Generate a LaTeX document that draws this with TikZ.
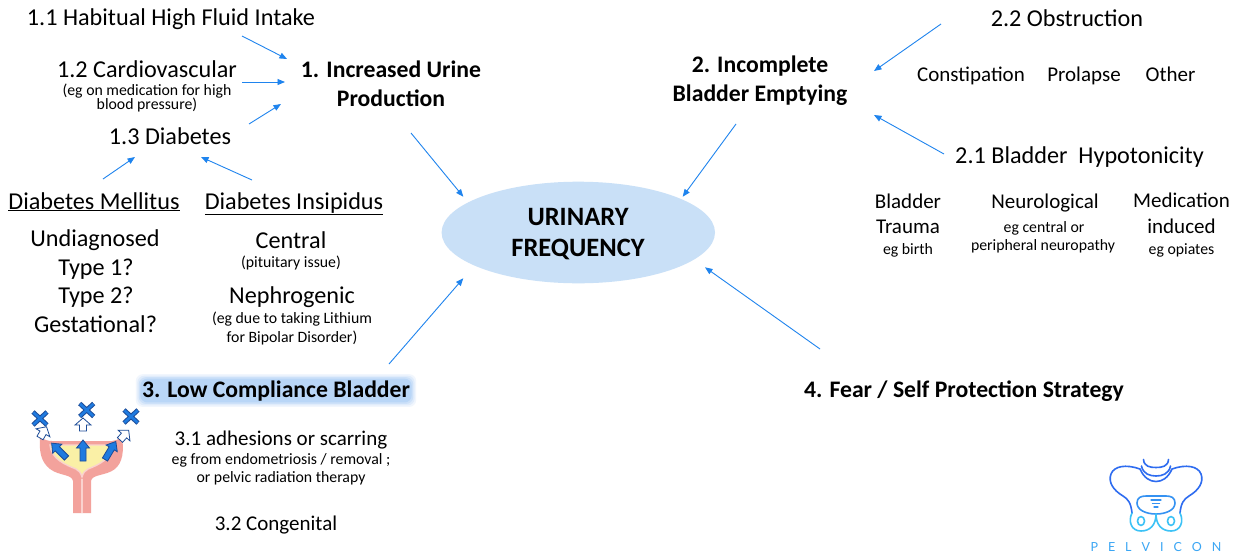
\documentclass[tikz,border=0pt]{standalone}
\usepackage{fontspec}
\setmainfont{Carlito}
\newfontfamily\logofont{Lato}
\usetikzlibrary{arrows.meta,shapes.geometric,backgrounds}
\definecolor{linkblue}{HTML}{1F84EE}
\definecolor{ovalfill}{HTML}{C9E0F7}
\definecolor{haze}{HTML}{8DBDF3}
\definecolor{wallpink}{HTML}{F3A29C}
\definecolor{liningpink}{HTML}{FAD2CE}
\definecolor{urineyellow}{HTML}{FAF0A6}
\definecolor{pushblue}{HTML}{1F7BE0}
\definecolor{edgeblue}{HTML}{1D4C97}
\definecolor{logotopc}{HTML}{2E6CF0}
\definecolor{logomidc}{HTML}{3592F2}
\definecolor{logobotc}{HTML}{3CC2F6}
\definecolor{logotext}{HTML}{3BA6F4}

\tikzset{
  txt/.style={anchor=base, inner sep=0pt, font=\fontsize{24.2}{28}\selectfont},
  bld/.style={anchor=base, inner sep=0pt, font=\bfseries\fontsize{23.7}{28}\selectfont},
  med/.style={anchor=base, inner sep=0pt, font=\fontsize{21}{25}\selectfont},
  sml/.style={anchor=base, inner sep=0pt, font=\fontsize{15.8}{18}\selectfont},
  big/.style={anchor=base, inner sep=0pt, font=\bfseries\fontsize{26.5}{30}\selectfont},
  conn/.style={draw=linkblue, line width=0.9pt, -{Triangle[length=7.5pt,width=6pt]}},
  bluearrow/.pic={
    \path[fill=pushblue, draw=edgeblue, line width=0.8pt, line join=miter]
      (-3,0) -- (-3,-13) -- (-6.5,-13) -- (0,-21) -- (6.5,-13) -- (3,-13) -- (3,0) -- cycle;
  },
  whitearrow/.pic={
    \path[fill=white, draw=edgeblue, line width=0.8pt, line join=miter]
      (-3.5,0) -- (-3.5,-6) -- (-8,-6) -- (0,-13) -- (8,-6) -- (3.5,-6) -- (3.5,0) -- cycle;
  },
  crossmark/.pic={
    \draw[edgeblue, line width=4.6pt] (-7,-6.5) -- (7,6.5) (-7,6.5) -- (7,-6.5);
    \draw[pushblue, line width=2.6pt] (-6.6,-6.1) -- (6.6,6.1) (-6.6,6.1) -- (6.6,-6.1);
  },
}

\begin{document}
\begin{tikzpicture}[x=1pt,y=-1pt]
\useasboundingbox (0,0) rectangle (1243,552);

% ---------- 1. Increased urine production ----------
\node[txt] (n11) at (171,25) {1.1 Habitual High Fluid Intake};
\node[txt] (n12) at (147,77) {1.2 Cardiovascular};
\node[sml] (n12a) at (147,95) {(eg on medication for high};
\node[sml] (n12b) at (147,109) {blood pressure)};
\node[txt] (n13) at (170,144) {1.3 Diabetes};
\node[bld] (n1) at (391,77) {1. Increased Urine};
\node[bld] (n1b) at (391,106) {Production};

\node[txt] (dm) at (94,209) {\underline{Diabetes Mellitus}};
\node[txt] (di) at (294,209) {\underline{Diabetes Insipidus}};
\node[txt] (dm1) at (95,246) {Undiagnosed};
\node[txt] (dm2) at (96,275) {Type 1?};
\node[txt] (dm3) at (96,303) {Type 2?};
\node[txt] (dm4) at (95.5,332) {Gestational?};
\node[txt] (di1) at (291,248) {Central};
\node[sml] (di1a) at (291,267) {(pituitary issue)};
\node[txt] (di2) at (292,303) {Nephrogenic};
\node[sml] (di2a) at (292,323) {(eg due to taking Lithium};
\node[sml] (di2b) at (292,342) {for Bipolar Disorder)};

% ---------- central oval ----------
\node[ellipse, fill=ovalfill, minimum width=273.4pt, minimum height=101.6pt, inner sep=0pt] (uf) at (578.3,232.5) {};
\node[big] (ufa) at (578,225) {URINARY};
\node[big] (ufb) at (578,256) {FREQUENCY};

% ---------- 2. Incomplete bladder emptying ----------
\node[bld] (n2) at (760,72) {2. Incomplete};
\node[bld] (n2b) at (760,101) {Bladder Emptying};
\node[txt] (n22) at (1067,26) {2.2 Obstruction};
\node[med] (ob1) at (971,81) {Constipation};
\node[med] (ob2) at (1084,81) {Prolapse};
\node[med] (ob3) at (1170.5,81) {Other};
\node[txt] (n21) at (1079.5,163) {2.1 Bladder~\ Hypotonicity};
\node[med] (hy1) at (908,208) {Bladder};
\node[med] (hy1b) at (908,233) {Trauma};
\node[sml] (hy1c) at (908,254) {eg birth};
\node[med] (hy2) at (1045,208) {Neurological};
\node[sml] (hy2b) at (1044,232) {eg central or};
\node[sml] (hy2c) at (1043,250) {peripheral neuropathy};
\node[med] (hy3) at (1181.5,207) {Medication};
\node[med] (hy3b) at (1181.5,233) {induced};
\node[sml] (hy3c) at (1181.5,254) {eg opiates};

% ---------- 3. Low compliance bladder ----------
\node[bld] (n3) at (276,397) {3. Low Compliance Bladder};
\begin{scope}[on background layer]
  % white page, then a soft blue glow behind the heading
  \fill[white] (0,0) rectangle (1243,552);
  \foreach \d/\o in {6/0.12, 4.5/0.16, 3/0.22, 1.5/0.3} {
    \fill[haze, opacity=\o, rounded corners=7pt]
      ([shift={(-\d,-\d)}]n3.north west) rectangle ([shift={(\d,\d)}]n3.south east);
  }
\end{scope}
\node[med] (n31) at (281,445) {3.1 adhesions or scarring};
\node[sml] (n31a) at (281,464) {eg from endometriosis / removal ;};
\node[sml] (n31b) at (281,482) {or pelvic radiation therapy};
\node[med] (n32) at (276,530) {3.2 Congenital};

% ---------- 4. Fear ----------
\node[bld] (n4) at (964,397) {4. Fear / Self Protection Strategy};

% ---------- connector ends ----------
\coordinate (n11-o) at (242,36);   \coordinate (n1-i1) at (287,59);
\coordinate (n12-o) at (242,82);   \coordinate (n1-i2) at (285,82);
\coordinate (n13-o) at (249,124);  \coordinate (n1-i3) at (281,104);
\coordinate (dm-o) at (103,179);   \coordinate (n13-i1) at (135,157);
\coordinate (di-o) at (252,180);   \coordinate (n13-i2) at (201,157);
\coordinate (n1-o) at (411,133);   \coordinate (uf-i1) at (463.3,196.7);
\coordinate (n2-o) at (736,124);   \coordinate (uf-i2) at (682.7,196.7);
\coordinate (n22-o) at (941,24);   \coordinate (n2-i1) at (874,71);
\coordinate (n21-o) at (944,154);  \coordinate (n2-i2) at (874,115);
\coordinate (n3-o) at (389,364);   \coordinate (uf-i3) at (463.3,278.3);
\coordinate (n4-o) at (820,349);   \coordinate (uf-i4) at (705,267.3);

\draw[conn] (n11-o) -- (n1-i1);
\draw[conn] (n12-o) -- (n1-i2);
\draw[conn] (n13-o) -- (n1-i3);
\draw[conn] (dm-o) -- (n13-i1);
\draw[conn] (di-o) -- (n13-i2);
\draw[conn] (n1-o) -- (uf-i1);
\draw[conn] (n2-o) -- (uf-i2);
\draw[conn] (n22-o) -- (n2-i1);
\draw[conn] (n21-o) -- (n2-i2);
\draw[conn] (n3-o) -- (uf-i3);
\draw[conn] (n4-o) -- (uf-i4);

% ---------- bladder sketch ----------
% outer wall and urethra
\fill[wallpink] (40,436.5) .. controls (39,452) and (41,462) .. (50,469)
  .. controls (59,476) and (72,474) .. (73,481) -- (73,513) -- (91,513) -- (91,481)
  .. controls (92,474) and (106,476) .. (115,469)
  .. controls (123,462) and (124,451) .. (122,436)
  .. controls (118,440) and (115,441) .. (112,441) -- (52,441)
  .. controls (48,441) and (44,440) .. (40,436.5) -- cycle;
% urine inside
\fill[urineyellow, draw=liningpink, line width=1.4pt] (50,445) -- (112.5,445)
  .. controls (112,459) and (98,465) .. (88,469) .. controls (85,470.5) and (83,473) .. (82,477)
  .. controls (81,473) and (79,470.5) .. (76,469) .. controls (66,465) and (51,459) .. (50,445) -- cycle;
\draw[liningpink, line width=1.2pt] (82,479) -- (82,513);
% pressure arrows
\pic[rotate=45] at (66.5,458) {bluearrow};
\pic at (83,461) {bluearrow};
\pic[rotate=-31] at (105,459.5) {bluearrow};
\pic[rotate=-30] at (40,438) {whitearrow};
\pic at (83,431) {whitearrow};
\pic[rotate=-42] at (120,440) {whitearrow};
\pic at (40,418.5) {crossmark};
\pic at (86.7,410) {crossmark};
\pic at (131,416.5) {crossmark};

% ---------- logo ----------
\begin{scope}[line width=1.6pt, line cap=round, line join=round]
\draw[logotopc] (1143.5,459.5) .. controls (1144,466.5) and (1150,467.5) .. (1156,467.5)
  .. controls (1162,467.5) and (1168,466.5) .. (1168.5,459.5);
\draw[logotopc] (1141.5,466) .. controls (1143,474) and (1150,476) .. (1156,476)
  .. controls (1162,476) and (1169,474) .. (1170.5,466);
\draw[logotopc] (1132,513) .. controls (1131,503) and (1128,499) .. (1123,496)
  .. controls (1113,490) and (1108,482) .. (1111,474)
  .. controls (1114,466) and (1126,464) .. (1140,469)
  .. controls (1144,478) and (1150,481.5) .. (1156,481.5)
  .. controls (1162,481.5) and (1168,478) .. (1172,469)
  .. controls (1186,464) and (1198,466) .. (1201,474)
  .. controls (1204,482) and (1199,490) .. (1189,496)
  .. controls (1184,499) and (1181,503) .. (1180,513);
\draw[logomidc] (1156,514) .. controls (1146,514) and (1137,510) .. (1137,503)
  .. controls (1137,497.5) and (1141,496) .. (1146,496) -- (1166,496)
  .. controls (1171,496) and (1175,497.5) .. (1175,503)
  .. controls (1175,510) and (1166,514) .. (1156,514);
\draw[logomidc, line width=1.2pt] (1151,500) -- (1161,500) (1152.5,503.5) -- (1159.5,503.5) (1154,507) -- (1158,507);
\draw[logobotc] (1132,513) .. controls (1128,521) and (1131,531) .. (1141,531)
  .. controls (1150,531) and (1156,525) .. (1156,514);
\draw[logobotc] (1180,513) .. controls (1184,521) and (1181,531) .. (1171,531)
  .. controls (1162,531) and (1156,525) .. (1156,514);
\draw[logobotc] (1141,521) ellipse [x radius=3.5pt, y radius=4.5pt];
\draw[logobotc] (1171,521) ellipse [x radius=3.5pt, y radius=4.5pt];
\end{scope}
\node[anchor=base, inner sep=0pt, text=logotext, font=\logofont\fontsize{12.5}{14}\selectfont] (brand) at (1156,551)
  {P\hspace{10pt}E\hspace{10pt}L\hspace{10pt}V\hspace{10pt}I\hspace{10pt}C\hspace{10pt}O\hspace{10pt}N};
\end{tikzpicture}
\end{document}
